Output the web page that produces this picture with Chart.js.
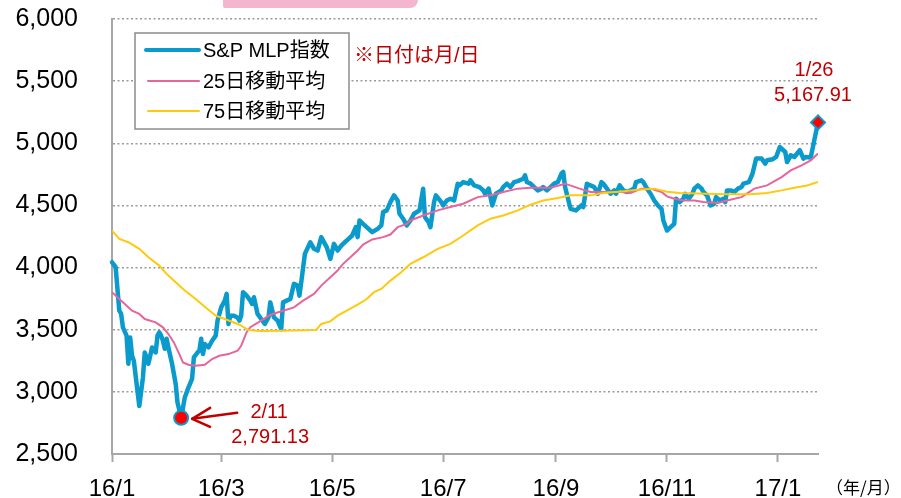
<!DOCTYPE html>
<html lang="ja">
<head>
  <meta charset="UTF-8">
  <title>S&amp;P MLP指数</title>
  <script src="https://cdn.jsdelivr.net/npm/chart.js"></script>
  <style>
    html, body { margin: 0; padding: 0; background: #fff; }
  </style>
</head>
<body>
  <canvas id="chart" width="901" height="498"></canvas>

  <script>
    // x values are days counted from 2016/1/4 (first trading day)
    const xTickDays = [0, 60, 121, 182, 244, 305, 366];
    const xTickLabels = ['16/1', '16/3', '16/5', '16/7', '16/9', '16/11', '17/1'];
    const yTicks = [2500, 3000, 3500, 4000, 4500, 5000, 5500, 6000];

    const seriesNames = ['S&P MLP指数', '25日移動平均', '75日移動平均'];

    const idxDays = [
      0, 2, 4, 5, 6, 8, 9, 10, 11, 12, 15, 17, 18, 19, 20, 21, 22, 24, 25, 26,
      27, 28, 29, 30, 31, 33, 35, 36, 38, 40, 42, 44, 45, 47, 48, 49, 50, 51, 53, 55,
      57, 58, 60, 62, 63, 64, 65, 67, 69, 70, 71, 72, 74, 76, 77, 78, 80, 82, 84, 86,
      87, 89, 91, 93, 94, 96, 98, 100, 102, 103, 104, 106, 109, 111, 113, 115, 117, 118, 120, 122,
      124, 126, 128, 130, 132, 134, 135, 136, 138, 141, 143, 146, 148, 149, 151, 153, 155, 157, 158, 160,
      162, 164, 166, 169, 171, 172, 174, 175, 177, 178, 181, 182, 184, 186, 188, 190, 191, 193, 196, 197,
      199, 202, 204, 205, 207, 209, 211, 214, 215, 217, 219, 221, 223, 226, 227, 228, 230, 232, 234, 236,
      237, 239, 241, 243, 245, 247, 248, 249, 252, 255, 258, 259, 261, 263, 265, 267, 269, 270, 272, 274,
      276, 277, 279, 281, 283, 285, 287, 288, 291, 292, 294, 296, 298, 300, 302, 303, 305, 307, 309, 310,
      312, 314, 315, 317, 319, 320, 322, 324, 325, 327, 329, 331, 332, 334, 336, 337, 338, 340, 342, 344,
      346, 347, 350, 352, 354, 357, 359, 360, 363, 365, 367, 370, 371, 373, 375, 378, 380, 381, 384, 388
    ];
    const idxValues = [
      4043, 4003, 3653, 3629, 3519, 3452, 3226, 3438, 3290, 3250, 2887, 3116, 3317, 3277, 3226, 3290, 3357, 3317, 3452, 3479,
      3452, 3411, 3347, 3427, 3357, 3226, 3065, 2914, 2791.13, 2954, 3035, 3105, 3277, 3317, 3331, 3427, 3304, 3385, 3357, 3411,
      3452, 3573, 3680, 3734, 3788, 3546, 3613, 3613, 3599, 3573, 3613, 3802, 3774, 3734, 3707, 3761, 3627, 3586, 3546, 3599,
      3720, 3599, 3573, 3505, 3720, 3734, 3747, 3869, 3855, 3774, 3882, 4110, 4204, 4151, 4137, 4245, 4191, 4164, 4070, 4191,
      4137, 4177, 4204, 4231, 4258, 4325, 4245, 4379, 4352, 4312, 4285, 4312, 4339, 4446, 4460, 4527, 4581, 4540, 4433, 4393,
      4339, 4379, 4433, 4460, 4635, 4406, 4365, 4325, 4527, 4581, 4527, 4500, 4540, 4554, 4540, 4675, 4661, 4688, 4675, 4702,
      4661, 4648, 4621, 4594, 4635, 4500, 4594, 4621, 4648, 4675, 4648, 4688, 4696, 4715, 4742, 4688, 4675, 4648, 4621, 4635,
      4648, 4621, 4648, 4675, 4688, 4755, 4769, 4648, 4473, 4460, 4500, 4487, 4675, 4661, 4648, 4594, 4688, 4675, 4635, 4594,
      4621, 4594, 4661, 4621, 4608, 4621, 4635, 4688, 4702, 4688, 4635, 4594, 4540, 4500, 4473, 4379, 4298, 4325, 4352, 4554,
      4527, 4554, 4594, 4554, 4594, 4635, 4661, 4635, 4608, 4581, 4500, 4514, 4567, 4540, 4554, 4527, 4621, 4621, 4608, 4635,
      4648, 4675, 4688, 4755, 4877, 4877, 4836, 4863, 4871, 4890, 4970, 4930, 4849, 4903, 4890, 4944, 4877, 4890, 4885, 5167.91
    ];

    const ma25Days = [
      0, 4, 7, 11, 15, 18, 24, 28, 31, 34, 37, 39, 42, 46, 51, 55, 59, 64, 69, 71,
      74, 76, 82, 87, 94, 100, 105, 111, 115, 120, 124, 127, 131, 135, 138, 143, 149, 153, 157, 162,
      164, 171, 179, 186, 193, 201, 208, 215, 223, 230, 241, 249, 257, 263, 270, 280, 285, 291, 296, 302,
      305, 309, 314, 320, 325, 333, 338, 346, 353, 360, 368, 373, 379, 384, 388
    ];
    const ma25Values = [
      3802, 3747, 3707, 3653, 3627, 3586, 3559, 3519, 3465, 3398, 3304, 3237, 3218, 3210, 3218, 3264, 3290, 3304, 3331, 3371,
      3480, 3520, 3573, 3621, 3653, 3680, 3734, 3788, 3855, 3922, 3976, 4030, 4083, 4137, 4185, 4226, 4245, 4266, 4325, 4352,
      4379, 4419, 4460, 4487, 4514, 4567, 4581, 4608, 4635, 4643, 4643, 4675, 4635, 4608, 4608, 4608, 4600, 4635, 4635, 4608,
      4573, 4554, 4540, 4540, 4527, 4519, 4540, 4567, 4635, 4661, 4728, 4782, 4823, 4863, 4917
    ];

    const ma75Days = [
      0, 4, 9, 15, 20, 26, 30, 35, 40, 46, 51, 57, 62, 70, 75, 81, 93, 112, 115, 120,
      124, 129, 135, 140, 144, 148, 153, 159, 164, 171, 179, 186, 193, 201, 208, 215, 223, 230, 237, 245,
      252, 263, 270, 280, 289, 298, 305, 312, 327, 338, 351, 360, 368, 375, 382, 388
    ];
    const ma75Values = [
      4298, 4231, 4204, 4151, 4083, 4016, 3949, 3882, 3815, 3747, 3685, 3613, 3586, 3540, 3497, 3490, 3492, 3497, 3546, 3567,
      3613, 3653, 3702, 3747, 3802, 3828, 3895, 3962, 4030, 4083, 4151, 4191, 4258, 4339, 4393, 4419, 4460, 4506, 4540, 4559,
      4581, 4581, 4600, 4613, 4627, 4635, 4610, 4600, 4594, 4589, 4589, 4600, 4621, 4643, 4661, 4688
    ];

    // marked points on the index line
    const lowIndex = idxValues.indexOf(2791.13);
    const lastIndex = idxValues.length - 1;
    const lowLabels = ['2/11', '2,791.13'];
    const lastLabels = ['1/26', '5,167.91'];
    const noteText = '※日付は月/日';
    const axisUnitText = '（年/月）';

    const BLUE = '#0a9acb';
    const PINK = '#e6659b';
    const YELLOW = '#ffc90e';
    const RED = '#c00000';
    const GRID = '#9a9a9a';
    const AXIS = '#a6a6a6';

    Chart.defaults.font.family = "'Liberation Sans', Arial, 'Noto Sans CJK JP', sans-serif";
    Chart.defaults.color = '#000';

    function toPoints(days, values) {
      return days.map((d, i) => ({ x: d, y: values[i] }));
    }

    // keep the plot area where the picture has it
    function noScalePadding(s) {
      s.paddingTop = 0;
      s.paddingBottom = 0;
      s.paddingLeft = 0;
      s.paddingRight = 0;
    }

    // legend box, notes and the two callouts
    const extrasPlugin = {
      id: 'extras',
      afterDatasetsDraw(chart) {
        const ctx = chart.ctx;
        ctx.save();

        // pink tab cut off at the top
        ctx.fillStyle = '#f4b6cf';
        ctx.beginPath();
        ctx.roundRect(223, -10, 195, 18, [0, 0, 8, 2]);
        ctx.fill();

        // legend
        ctx.fillStyle = '#fff';
        ctx.fillRect(135, 33, 214, 96);
        ctx.strokeStyle = '#8c8c8c';
        ctx.lineWidth = 1.5;
        ctx.strokeRect(135, 33, 214, 96);
        const rows = [50, 81, 111];
        const widths = [4, 2, 2];
        chart.data.datasets.forEach((ds, i) => {
          ctx.strokeStyle = ds.borderColor;
          ctx.lineWidth = widths[i];
          ctx.lineCap = 'round';
          ctx.beginPath();
          ctx.moveTo(i === 0 ? 146 : 148, rows[i]);
          ctx.lineTo(199, rows[i]);
          ctx.stroke();
          ctx.fillStyle = '#000';
          ctx.font = "20px 'Liberation Sans', Arial, 'Noto Sans CJK JP', sans-serif";
          ctx.textAlign = 'left';
          ctx.textBaseline = 'middle';
          ctx.fillText(ds.label, 203, rows[i] + 1);
        });

        ctx.fillStyle = RED;
        ctx.fillText(noteText, 354, 56);

        // unit label
        ctx.fillStyle = '#000';
        ctx.font = "17px 'Noto Sans CJK JP', sans-serif";
        ctx.fillText(axisUnitText, 826, 488);

        const meta = chart.getDatasetMeta(0);
        ctx.font = "20px 'Liberation Sans', Arial, sans-serif";
        ctx.fillStyle = RED;
        ctx.textAlign = 'center';

        // low point callout with arrow
        const lo = meta.data[lowIndex];
        ctx.strokeStyle = RED;
        ctx.lineWidth = 2.5;
        ctx.lineCap = 'round';
        ctx.lineJoin = 'round';
        ctx.beginPath();
        ctx.moveTo(lo.x + 56, lo.y - 5);
        ctx.lineTo(lo.x + 11, lo.y + 1);
        ctx.stroke();
        ctx.beginPath();
        ctx.moveTo(lo.x + 29, lo.y - 10);
        ctx.lineTo(lo.x + 11, lo.y + 1);
        ctx.lineTo(lo.x + 29, lo.y + 9);
        ctx.stroke();
        ctx.fillText(lowLabels[0], lo.x + 88, lo.y - 5);
        ctx.fillText(lowLabels[1], lo.x + 89, lo.y + 20);

        // last point callout
        const hi = meta.data[lastIndex];
        ctx.fillText(lastLabels[0], hi.x - 4, hi.y - 52);
        ctx.fillText(lastLabels[1], hi.x - 5, hi.y - 27);

        ctx.restore();
      }
    };

    const ctx = document.getElementById('chart').getContext('2d');
    new Chart(ctx, {
      type: 'line',
      data: {
        datasets: [
          {
            label: seriesNames[0],
            data: toPoints(idxDays, idxValues),
            borderColor: BLUE,
            borderWidth: 4.5,
            borderJoinStyle: 'round',
            borderCapStyle: 'round',
            tension: 0,
            clip: false,
            order: 2,
            pointRadius: c => (c.dataIndex === lowIndex || c.dataIndex === lastIndex) ? 7 : 0,
            pointStyle: c => c.dataIndex === lastIndex ? 'rectRot' : 'circle',
            pointBackgroundColor: '#ff0000',
            pointBorderColor: BLUE,
            pointBorderWidth: 2
          },
          {
            label: seriesNames[1],
            data: toPoints(ma25Days, ma25Values),
            borderColor: PINK,
            borderWidth: 2,
            pointRadius: 0,
            tension: 0,
            order: 1
          },
          {
            label: seriesNames[2],
            data: toPoints(ma75Days, ma75Values),
            borderColor: YELLOW,
            borderWidth: 2,
            pointRadius: 0,
            tension: 0,
            order: 0
          }
        ]
      },
      options: {
        responsive: false,
        animation: false,
        layout: { padding: { top: 19, right: 83, left: 0, bottom: 0 } },
        plugins: {
          legend: { display: false },
          tooltip: { enabled: false }
        },
        scales: {
          x: {
            type: 'linear',
            min: 0,
            max: 388,
            afterBuildTicks: s => { s.ticks = xTickDays.map(v => ({ value: v })); },
            afterFit: s => { s.height = 44; noScalePadding(s); },
            ticks: {
              autoSkip: false,
              maxRotation: 0,
              padding: 13,
              font: { size: 24 },
              callback: v => xTickLabels[xTickDays.indexOf(v)]
            },
            grid: {
              drawOnChartArea: false,
              drawTicks: true,
              tickLength: 8,
              tickColor: AXIS,
              tickWidth: 2
            },
            border: { display: true, color: AXIS, width: 2 }
          },
          y: {
            min: 2500,
            max: 6000,
            afterBuildTicks: s => { s.ticks = yTicks.map(v => ({ value: v })); },
            afterFit: s => { s.width = 112; noScalePadding(s); },
            ticks: {
              padding: 34,
              font: { size: 25 },
              callback: v => v.toLocaleString('en-US')
            },
            grid: {
              drawTicks: false,
              color: GRID,
              lineWidth: 1.5
            },
            border: { display: true, color: AXIS, width: 2, dash: [2, 2.5] }
          }
        }
      },
      plugins: [extrasPlugin]
    });
  </script>
</body>
</html>
